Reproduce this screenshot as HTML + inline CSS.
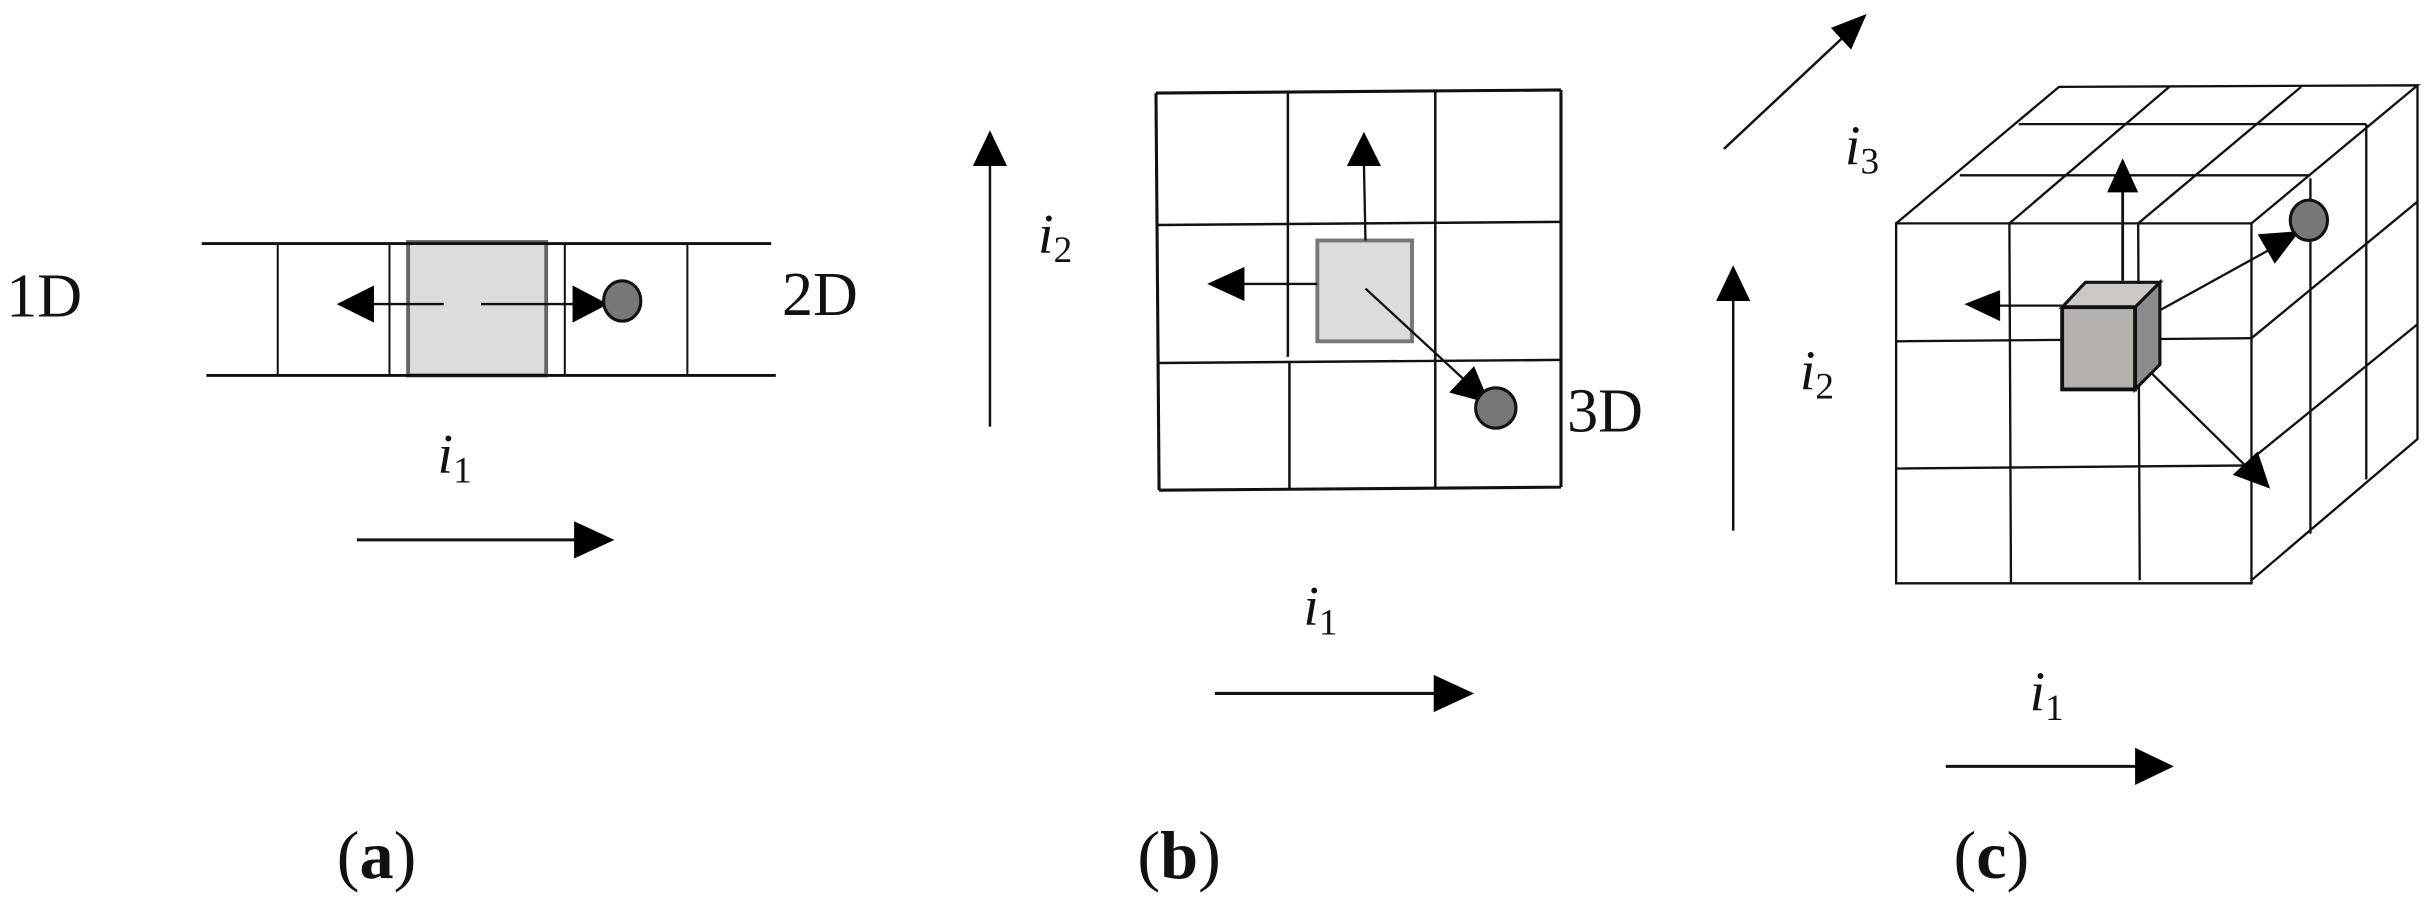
<!DOCTYPE html>
<html><head><meta charset="utf-8"><style>
html,body{margin:0;padding:0;background:#fff}
svg{display:block}
text{font-family:"Liberation Serif",serif;fill:#111}
</style></head><body>
<svg width="2433" height="906" viewBox="0 0 1568 584" preserveAspectRatio="none" xmlns="http://www.w3.org/2000/svg">
<g stroke="#111" fill="none">
<!-- Panel a -->
<rect x="263" y="156" width="89" height="86" fill="#dcdcdc" stroke="#666" stroke-width="2.5"/>
<line x1="130" y1="157" x2="497" y2="157" stroke-width="1.8"/>
<line x1="133" y1="242" x2="500" y2="242" stroke-width="1.8"/>
<line x1="179" y1="157" x2="179" y2="242" stroke-width="1.3"/>
<line x1="251" y1="157" x2="251" y2="242" stroke-width="1.3"/>
<line x1="364" y1="157" x2="364" y2="242" stroke-width="1.3"/>
<line x1="443" y1="157" x2="443" y2="242" stroke-width="1.3"/>
<line x1="286" y1="196" x2="238" y2="196" stroke-width="1.5"/>
<path d="M217,196 L241,184 L241,208 z" fill="#000" stroke="none"/>
<line x1="310" y1="196" x2="372" y2="196" stroke-width="1.5"/>
<path d="M392,196 L369,184 L369,208 z" fill="#000" stroke="none"/>
<ellipse cx="401" cy="194" rx="12" ry="13" fill="#777" stroke-width="2"/>
<line x1="230" y1="348" x2="372" y2="348" stroke-width="2"/>
<path d="M396,348 L370,336 L370,360 z" fill="#000" stroke="none"/>
<!-- Panel b -->
<line x1="638" y1="275" x2="638" y2="105" stroke-width="1.6"/>
<path d="M638,84 L627,107 L649,107 z" fill="#000" stroke="none"/>
<path d="M745,60 L1006,58 M745,60 L747,316 M1006,58 L1006,314 M747,316 L1006,314" stroke-width="2"/>
<path d="M746,145 L1006,143 M747,234 L1006,232 M830,59 L830,148 M830,148 L830,230 M831,234 L831,316 M925,58 L925,314" stroke-width="1.6"/>
<rect x="849" y="155" width="61" height="65" fill="#dcdcdc" stroke="#777" stroke-width="2.5"/>
<line x1="880" y1="155" x2="879" y2="105" stroke-width="1.5"/>
<path d="M879,85 L868,107 L890,107 z" fill="#000" stroke="none"/>
<line x1="849" y1="183" x2="800" y2="183" stroke-width="1.5"/>
<path d="M778,183 L802,172 L802,194 z" fill="#000" stroke="none"/>
<line x1="880" y1="186" x2="945" y2="246" stroke-width="1.5"/>
<path d="M960,260 L934,253 L950,236 z" fill="#000" stroke="none"/>
<circle cx="964" cy="263" r="13" fill="#777" stroke-width="2"/>
<line x1="783" y1="447" x2="926" y2="447" stroke-width="2"/>
<path d="M950,447 L924,435 L924,459 z" fill="#000" stroke="none"/>
<!-- Panel c -->
<line x1="1111" y1="96" x2="1190" y2="22" stroke-width="1.6"/>
<path d="M1203,9 L1180,18 L1193,32 z" fill="#000" stroke="none"/>
<line x1="1117" y1="342" x2="1117" y2="190" stroke-width="1.6"/>
<path d="M1117,171 L1106,194 L1128,194 z" fill="#000" stroke="none"/>
<g stroke-width="1.5">
<path d="M1222,144 L1451,144 L1451,376 L1222,376 z"/>
<path d="M1222,220 L1451,218 M1222,302 L1451,300 M1295,144 L1296,376 M1378,144 L1379,374"/>
<path d="M1222,144 L1327,56 L1558,55 L1451,144"/>
<path d="M1301,80 L1525,80 M1263,113 L1489,113 M1295,144 L1398,56 M1378,144 L1483,56"/>
<path d="M1558,55 L1558,283 L1451,374 M1489,115 L1489,344 M1525,80 L1525,309 M1451,218 L1558,130 M1451,296 L1558,209"/>
</g>
<line x1="1368" y1="181" x2="1368" y2="122" stroke-width="1.8"/>
<path d="M1368,102 L1358,124 L1378,124 z" fill="#000" stroke="none"/>
<line x1="1329" y1="197" x2="1287" y2="197" stroke-width="1.5"/>
<path d="M1266,196 L1289,187 L1289,207 z" fill="#000" stroke="none"/>
<line x1="1392" y1="200" x2="1468" y2="158" stroke-width="1.5"/>
<path d="M1482,149 L1455,151 L1466,170 z" fill="#000" stroke="none"/>
<ellipse cx="1488" cy="142" rx="12" ry="13" fill="#777" stroke-width="2"/>
<line x1="1386" y1="240" x2="1450" y2="303" stroke-width="1.5"/>
<path d="M1463,315 L1439,306 L1455,291 z" fill="#000" stroke="none"/>
<path d="M1329,198 L1344,182 L1392,182 L1376,198 z" fill="#cbc7c5" stroke-width="2"/>
<path d="M1376,198 L1392,182 L1392,235 L1376,251 z" fill="#8c8a8a" stroke-width="2"/>
<rect x="1329" y="198" width="47" height="53" fill="#b4b0ae" stroke-width="2.5"/>
<line x1="1254" y1="494" x2="1378" y2="494" stroke-width="2"/>
<path d="M1401,494 L1376,482 L1376,506 z" fill="#000" stroke="none"/>
</g>
<!-- Labels -->
<text x="4" y="204" font-size="40">1D</text>
<text x="504" y="203" font-size="40">2D</text>
<text x="1010" y="278" font-size="40">3D</text>
<text x="282" y="305" font-size="36" font-style="italic">i<tspan font-style="normal" font-size="24" dy="6">1</tspan></text>
<text x="840" y="403" font-size="36" font-style="italic">i<tspan font-style="normal" font-size="24" dy="6">1</tspan></text>
<text x="1308" y="458" font-size="36" font-style="italic">i<tspan font-style="normal" font-size="24" dy="6">1</tspan></text>
<text x="669" y="163" font-size="36" font-style="italic">i<tspan font-style="normal" font-size="24" dy="6">2</tspan></text>
<text x="1160" y="251" font-size="36" font-style="italic">i<tspan font-style="normal" font-size="24" dy="6">2</tspan></text>
<text x="1189" y="106" font-size="36" font-style="italic">i<tspan font-style="normal" font-size="24" dy="6">3</tspan></text>
<text x="217" y="566" font-size="44">(<tspan font-weight="bold">a</tspan>)</text>
<text x="733" y="566" font-size="44">(<tspan font-weight="bold">b</tspan>)</text>
<text x="1259" y="566" font-size="44">(<tspan font-weight="bold">c</tspan>)</text>
</svg>
</body></html>
